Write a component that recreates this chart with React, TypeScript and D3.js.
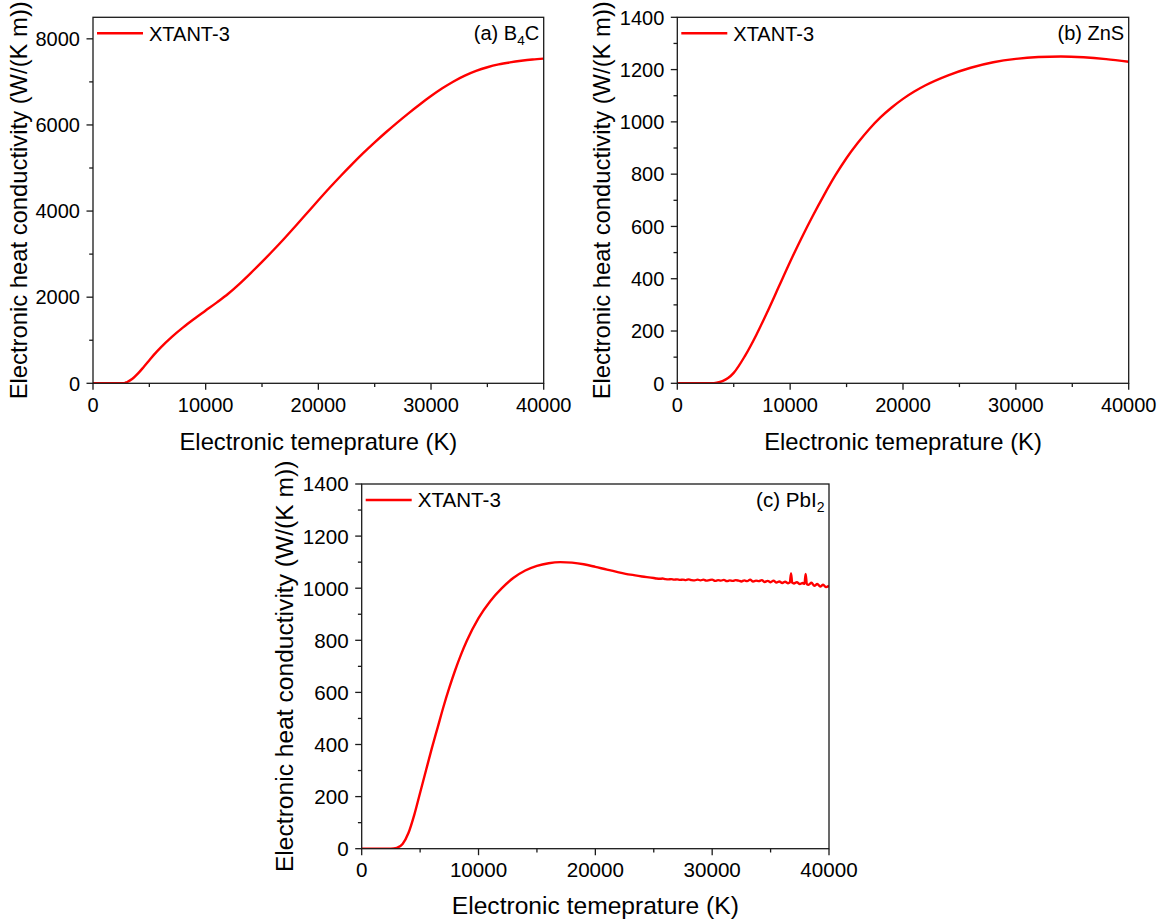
import React from "react";
import * as d3 from "d3";

// ---------------- DATA ----------------
const xTickValues = [0, 10000, 20000, 30000, 40000];
const xMinorValues = [5000, 15000, 25000, 35000];

// (a) B4C
const tempA = [0, 1000, 2000, 2500, 2800, 3000, 3500, 4000, 4500, 5000, 5500, 6000, 7000, 8000, 9000, 10000, 11000, 12000, 13000, 14000, 15000, 16000, 17000, 18000, 19000, 20000, 21000, 22000, 23000, 24000, 25000, 26000, 27000, 28000, 29000, 30000, 31000, 32000, 33000, 34000, 35000, 36000, 37000, 38000, 39000, 40000];
const kappaA = [0, 0, 0, 0, 5, 25, 105, 230, 380, 535, 690, 830, 1080, 1300, 1500, 1690, 1880, 2080, 2310, 2560, 2820, 3090, 3370, 3660, 3955, 4250, 4540, 4820, 5090, 5350, 5595, 5830, 6055, 6270, 6475, 6670, 6850, 7010, 7145, 7255, 7340, 7405, 7452, 7490, 7520, 7540];
const yTicksA = [0, 2000, 4000, 6000, 8000];
const yMinorA = [1000, 3000, 5000, 7000];

// (b) ZnS
const tempB = [0, 1000, 2000, 3000, 3500, 4000, 4500, 5000, 6000, 7000, 8000, 9000, 10000, 11000, 12000, 13000, 14000, 15000, 16000, 17000, 18000, 19000, 20000, 21000, 22000, 24000, 26000, 28000, 30000, 32000, 34000, 36000, 38000, 40000];
const kappaB = [0, 0, 0, 0, 2, 8, 20, 40, 105, 185, 275, 370, 465, 555, 640, 720, 795, 862, 920, 972, 1017, 1055, 1088, 1116, 1140, 1178, 1207, 1228, 1241, 1248, 1250, 1247, 1240, 1230];
const yTicksB = [0, 200, 400, 600, 800, 1000, 1200, 1400];
const yMinorB = [100, 300, 500, 700, 900, 1100, 1300];

// (c) PbI2
const tempC = [0, 1000, 2000, 2500, 3000, 3500, 4000, 4500, 5000, 5500, 6000, 6500, 7000, 7500, 8000, 8500, 9000, 10000, 11000, 12000, 13000, 14000, 15000, 16000, 17000, 18000, 19000, 20000, 21000, 22000, 23000, 24000, 25000, 25250, 25500, 25750, 26000, 26250, 26500, 26750, 27000, 27250, 27500, 27750, 28000, 28250, 28500, 28750, 29000, 29250, 29500, 29750, 30000, 30250, 30500, 30750, 31000, 31250, 31500, 31750, 32000, 32250, 32500, 32750, 33000, 33250, 33500, 33750, 34000, 34250, 34500, 34750, 35000, 35250, 35500, 35750, 36000, 36250, 36500, 36650, 36750, 36850, 37000, 37250, 37500, 37750, 37900, 38000, 38100, 38250, 38500, 38750, 39000, 39250, 39500, 39750, 40000];
const kappaC = [0, 0, 0, 0, 3, 18, 60, 130, 215, 300, 385, 465, 545, 618, 685, 745, 798, 885, 950, 1000, 1040, 1068, 1086, 1096, 1100, 1098, 1092, 1082, 1071, 1061, 1052, 1045, 1039, 1037, 1036, 1037, 1035, 1034, 1035, 1033, 1034, 1032, 1033, 1031, 1034, 1031, 1030, 1033, 1030, 1033, 1029, 1031, 1033, 1028, 1031, 1029, 1032, 1027, 1030, 1028, 1031, 1029, 1026, 1030, 1027, 1033, 1026, 1029, 1027, 1031, 1024, 1028, 1023, 1029, 1022, 1026, 1020, 1025, 1019, 1022, 1057, 1021, 1018, 1023, 1016, 1020, 1017, 1055, 1016, 1013, 1021, 1009, 1016, 1006, 1013, 1004, 1009];
const yTicksC = [0, 200, 400, 600, 800, 1000, 1200, 1400];
const yMinorC = [100, 300, 500, 700, 900, 1100, 1300];

const legendLabel = "XTANT-3";
const xTitle = "Electronic temeprature (K)";
const yTitle = "Electronic heat conductivity (W/(K m))";

// ---------------- PANEL ----------------
type PanelProps = {
  left: number; right: number; top: number; bottom: number;
  yMax: number; temps: number[]; values: number[];
  yTicks: number[]; yMinor: number[];
  labelMain: string; labelSub?: string; labelTail?: string;
  tickFont: number; titleFont: number;
  yTitleX: number; xTitleY: number;
};

function Panel(p: PanelProps) {
  const x = d3.scaleLinear().domain([0, 40000]).range([p.left, p.right]);
  const y = d3.scaleLinear().domain([0, p.yMax]).range([p.bottom, p.top]);
  const pts = p.temps.map((t, i) => [t, p.values[i]] as [number, number]);
  const line = d3.line<[number, number]>()
    .x(d => x(d[0]))
    .y(d => y(d[1]))
    .curve(d3.curveMonotoneX);
  const font = "'Liberation Sans', Arial, Helvetica, sans-serif";
  const axisColor = "#1a1a1a";
  const majorLen = 6.5;
  const minorLen = 3.8;
  const cy = (p.top + p.bottom) / 2;
  const cx = (p.left + p.right) / 2;
  const legY = p.top + 16;
  return (
    <g fontFamily={font}>
      <defs>
        <clipPath id={`clip-${p.left}`}>
          <rect x={p.left} y={p.top - 2} width={p.right - p.left} height={p.bottom - p.top + 2} />
        </clipPath>
      </defs>
      <path d={line(pts) || ""} fill="none" stroke="#ff0000" strokeWidth={2.4} strokeLinejoin="round" clipPath={`url(#clip-${p.left})`} />
      <rect x={p.left} y={p.top} width={p.right - p.left} height={p.bottom - p.top} fill="none" stroke={axisColor} strokeWidth={1.3} />
      {/* x ticks */}
      {xTickValues.map(v => (
        <g key={`xt${v}`}>
          <line x1={x(v)} x2={x(v)} y1={p.bottom} y2={p.bottom + majorLen} stroke={axisColor} strokeWidth={1.3} />
          <text x={x(v)} y={p.bottom + 28.5} textAnchor="middle" fontSize={p.tickFont} fill="#000">{v}</text>
        </g>
      ))}
      {xMinorValues.map(v => (
        <line key={`xm${v}`} x1={x(v)} x2={x(v)} y1={p.bottom} y2={p.bottom + minorLen} stroke={axisColor} strokeWidth={1.3} />
      ))}
      {/* y ticks */}
      {p.yTicks.map(v => (
        <g key={`yt${v}`}>
          <line x1={p.left - majorLen} x2={p.left} y1={y(v)} y2={y(v)} stroke={axisColor} strokeWidth={1.3} />
          <text x={p.left - 13} y={y(v)} dy="0.36em" textAnchor="end" fontSize={p.tickFont} fill="#000">{v}</text>
        </g>
      ))}
      {p.yMinor.map(v => (
        <line key={`ym${v}`} x1={p.left - minorLen} x2={p.left} y1={y(v)} y2={y(v)} stroke={axisColor} strokeWidth={1.3} />
      ))}
      {/* titles */}
      <text x={cx} y={p.xTitleY} textAnchor="middle" fontSize={p.titleFont} fill="#000">{xTitle}</text>
      <text transform={`translate(${p.yTitleX},${cy}) rotate(-90)`} textAnchor="middle" fontSize={p.titleFont} fill="#000">{yTitle}</text>
      {/* legend */}
      <line x1={p.left + 4} x2={p.left + 50} y1={legY} y2={legY} stroke="#ff0000" strokeWidth={2.6} />
      <text x={p.left + 56} y={legY + 7.3} fontSize={p.tickFont} fill="#000">{legendLabel}</text>
      {/* panel label */}
      <text x={p.right - 4.5} y={legY + 7} textAnchor="end" fontSize={p.tickFont} fill="#000">
        {p.labelMain}
        {p.labelSub ? <tspan fontSize={p.tickFont * 0.68} dy={5}>{p.labelSub}</tspan> : null}
        {p.labelTail ? <tspan dy={-5}>{p.labelTail}</tspan> : null}
      </text>
    </g>
  );
}

export default function App() {
  return (
    <svg width={1168} height={924} style={{ display: "block", position: "absolute", left: 0, top: 0 }}>
      <rect width={1168} height={924} fill="#fff" />
      <Panel left={93} right={543.7} top={17.3} bottom={383.3} yMax={8500}
        temps={tempA} values={kappaA} yTicks={yTicksA} yMinor={yMinorA}
        labelMain="(a) B" labelSub="4" labelTail="C" tickFont={20} titleFont={23.8}
        yTitleX={27} xTitleY={450} />
      <Panel left={677.3} right={1128.7} top={17.3} bottom={383.3} yMax={1400}
        temps={tempB} values={kappaB} yTicks={yTicksB} yMinor={yMinorB}
        labelMain="(b) ZnS" tickFont={20} titleFont={23.8}
        yTitleX={610} xTitleY={450} />
      <Panel left={361.7} right={829} top={484} bottom={848.7} yMax={1400}
        temps={tempC} values={kappaC} yTicks={yTicksC} yMinor={yMinorC}
        labelMain="(c) PbI" labelSub="2" tickFont={20.6} titleFont={24.6}
        yTitleX={293} xTitleY={914} />
    </svg>
  );
}
